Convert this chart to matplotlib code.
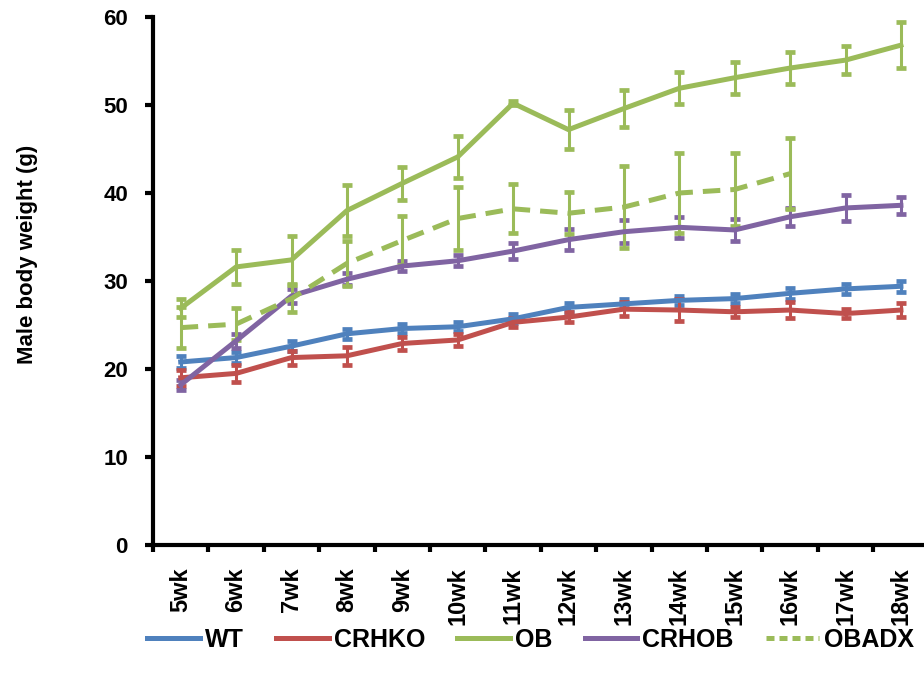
import matplotlib
matplotlib.use("Agg")
import matplotlib.pyplot as plt
from matplotlib.lines import Line2D

plt.rcParams['font.family'] = ['Liberation Sans', 'DejaVu Sans']
plt.rcParams['font.weight'] = 'bold'

weeks = ['5wk', '6wk', '7wk', '8wk', '9wk', '10wk', '11wk', '12wk',
         '13wk', '14wk', '15wk', '16wk', '17wk', '18wk']

wt = [20.8, 21.3, 22.6, 24.0, 24.6, 24.8, 25.7, 27.0, 27.4, 27.8, 28.0, 28.6, 29.1, 29.4]
wt_err = [0.7, 0.6, 0.6, 0.6, 0.5, 0.5, 0.5, 0.5, 0.5, 0.5, 0.5, 0.6, 0.6, 0.6]

crhko = [19.0, 19.5, 21.3, 21.5, 22.9, 23.3, 25.3, 25.9, 26.8, 26.7, 26.5, 26.7, 26.3, 26.7]
crhko_err = [0.9, 1.0, 0.8, 1.0, 0.7, 0.7, 0.5, 0.6, 0.8, 1.3, 0.6, 0.9, 0.5, 0.8]

ob = [26.9, 31.6, 32.4, 38.0, 41.1, 44.1, 50.2, 47.2, 49.6, 51.9, 53.1, 54.2, 55.1, 56.8]
ob_err = [1.0, 1.9, 2.7, 2.9, 1.9, 2.4, 0.2, 2.2, 2.1, 1.8, 1.8, 1.8, 1.6, 2.6]

crhob = [18.2, 23.2, 28.3, 30.2, 31.7, 32.3, 33.4, 34.7, 35.6, 36.1, 35.8, 37.3, 38.3, 38.6]
crhob_err = [0.6, 0.8, 0.8, 0.7, 0.6, 0.6, 0.9, 1.2, 1.3, 1.2, 1.2, 1.0, 1.5, 1.0]

# OBADX only measured up to 16wk
obadx = [24.7, 25.1, 28.0, 32.0, 34.6, 37.1, 38.2, 37.7, 38.4, 40.0, 40.4, 42.2]
obadx_err = [2.3, 1.8, 1.5, 2.6, 2.8, 3.6, 2.8, 2.4, 4.7, 4.5, 4.2, 4.0]

series = [
    ('WT', wt, wt_err, '#4F81BD', '-'),
    ('CRHKO', crhko, crhko_err, '#C0504D', '-'),
    ('OB', ob, ob_err, '#9BBB59', '-'),
    ('CRHOB', crhob, crhob_err, '#8064A2', '-'),
    ('OBADX', obadx, obadx_err, '#9BBB59', '--'),
]

fig = plt.figure(figsize=(9.24, 6.86), dpi=100)
ax = fig.add_axes([153 / 924, 1 - 545 / 686, 775.6 / 924, 528 / 686])

handles = []
for name, vals, errs, color, ls in series:
    xs = list(range(len(vals)))
    line, caps, bars = ax.errorbar(xs, vals, yerr=errs, color=color, lw=3.6,
                                   ls=ls, elinewidth=2.2, capsize=3.5,
                                   capthick=3.4)
    h = Line2D([], [], color=color, lw=3.6, ls=ls)
    if ls == '--':
        line.set_dashes((3.5, 2.0))
        h.set_dashes((1.6, 1.0))
    handles.append(h)

ax.set_xlim(-0.5, len(weeks) - 0.5)
ax.set_ylim(0, 60)
ax.set_yticks(range(0, 61, 10))
ax.set_xticks(range(len(weeks)))
ax.set_xticklabels(weeks, rotation=90, fontsize=17, fontweight='bold')
ax.set_xticks([i - 0.5 for i in range(len(weeks) + 1)], minor=True)
ax.tick_params(axis='x', which='major', length=0, pad=16)
ax.tick_params(axis='x', which='minor', length=5, width=3, direction='out')
ax.tick_params(axis='y', length=6, width=3, direction='out', pad=12, labelsize=16)
for lbl in ax.get_yticklabels():
    lbl.set_fontweight('bold')

ax.spines['top'].set_visible(False)
ax.spines['right'].set_visible(False)
ax.spines['left'].set_linewidth(3)
ax.spines['bottom'].set_linewidth(3)

ax.set_ylabel('Male body weight (g)', fontsize=16, fontweight='bold')
ax.yaxis.set_label_coords(-0.148, 0.55)

fig.legend(handles, [s[0] for s in series], loc='center',
           bbox_to_anchor=(0.574, 1 - 640 / 686),
           ncol=5, frameon=False, fontsize=18, handlelength=2.1,
           handletextpad=0.2, columnspacing=1.3)

fig.savefig('out.png', dpi=100)
